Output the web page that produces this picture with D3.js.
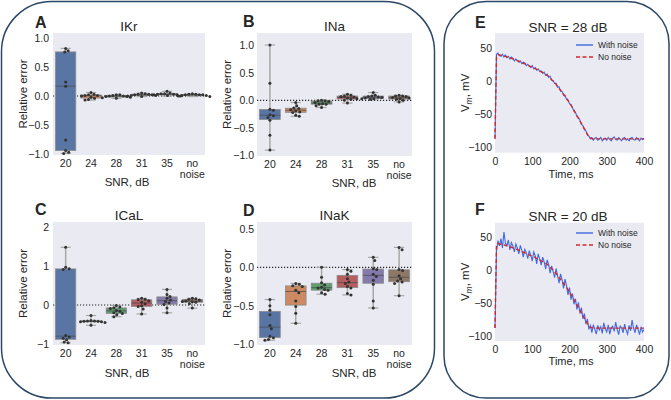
<!DOCTYPE html>
<html><head><meta charset="utf-8">
<script src="https://cdn.jsdelivr.net/npm/d3@7"></script>
<style>
body{margin:0;background:#fff}
svg{display:block}
text{font-family:"Liberation Sans",Arial,sans-serif;fill:#262626}
</style>
</head><body>
<svg id="c" width="671" height="400"></svg>
<script>
// ---------------- DATA ----------------
const categories = ["20", "24", "28", "31", "35", "no noise"];
const boxColors = ["#5975a4", "#cc8963", "#5f9e6e", "#b55d60", "#857aab", "#8d7866"];

const IKr = [
  [-0.99, -0.97, -0.94, -0.76, 0.17, 0.24, 0.76, 0.78, 0.82],
  [-0.07, -0.06, -0.04, -0.02, 0.00, 0.01, 0.01, 0.02, 0.03, 0.06],
  [-0.04, -0.03, -0.02, -0.01, -0.01, 0.00, 0.00, 0.01, 0.02, 0.02],
  [-0.01, 0.00, 0.01, 0.01, 0.02, 0.02, 0.03, 0.03, 0.04, 0.05],
  [0.00, 0.01, 0.02, 0.02, 0.03, 0.03, 0.04, 0.04, 0.05, 0.08],
  [-0.01, 0.00, 0.01, 0.01, 0.02, 0.02, 0.02, 0.03, 0.03, 0.04]
];
const INa = [
  [-0.90, -0.63, -0.36, -0.31, -0.28, -0.26, -0.18, -0.16, 0.31, 1.00],
  [-0.29, -0.27, -0.22, -0.21, -0.19, -0.17, -0.15, -0.14, -0.10, -0.04],
  [-0.13, -0.10, -0.07, -0.07, -0.06, -0.04, -0.02, -0.01, -0.01, 0.00],
  [-0.05, 0.00, 0.02, 0.03, 0.04, 0.06, 0.07, 0.08, 0.09, 0.11],
  [0.02, 0.03, 0.03, 0.04, 0.05, 0.06, 0.07, 0.08, 0.09, 0.14],
  [-0.03, 0.00, 0.02, 0.03, 0.04, 0.05, 0.07, 0.08, 0.08, 0.09]
];
const ICaL = [
  [-0.97, -0.95, -0.89, -0.85, -0.82, -0.78, 0.91, 0.93, 0.97, 1.48],
  [-0.52, -0.45, -0.43, -0.43, -0.42, -0.42, -0.41, -0.41, -0.40, -0.27],
  [-0.30, -0.25, -0.22, -0.20, -0.16, -0.14, -0.09, -0.07, -0.05, -0.01],
  [-0.23, -0.10, -0.04, -0.02, 0.03, 0.07, 0.11, 0.14, 0.15, 0.17],
  [-0.20, -0.08, 0.01, 0.05, 0.09, 0.13, 0.17, 0.22, 0.27, 0.40],
  [-0.08, 0.03, 0.07, 0.08, 0.09, 0.10, 0.13, 0.15, 0.16, 0.17]
];
const INaK = [
  [-0.95, -0.94, -0.92, -0.90, -0.80, -0.76, -0.62, -0.56, -0.50, -0.42],
  [-0.73, -0.60, -0.51, -0.44, -0.33, -0.30, -0.25, -0.24, -0.22, -0.21],
  [-0.35, -0.33, -0.30, -0.29, -0.27, -0.26, -0.23, -0.20, -0.13, 0.00],
  [-0.36, -0.34, -0.27, -0.25, -0.21, -0.19, -0.15, -0.09, -0.05, -0.03],
  [-0.53, -0.44, -0.22, -0.17, -0.12, -0.09, -0.03, -0.02, 0.09, 0.13],
  [-0.37, -0.21, -0.19, -0.18, -0.15, -0.11, -0.04, -0.03, 0.23, 0.26]
];
const ticksA = [-1, -0.5, 0, 0.5, 1];
const ticksB = [-1, -0.5, 0, 0.5, 1];
const ticksC = [-1, 0, 1, 2];
const ticksD = [-1, -0.5, 0, 0.5];

// action potential, samples every 4 ms from 0 to 400 ms
const timeTicks = [0, 100, 200, 300, 400];
const vTicks = [-100, -50, 0, 50];
const apClean = [
  -88, 37, 39.5, 39, 38.5, 38, 37.5, 37, 36, 35.5,
  34.5, 34, 33, 32, 31, 30.5, 29.5, 28.5, 27.5, 26.5,
  25.5, 24.5, 23.5, 22.5, 21.5, 20.5, 19.5, 18.5, 17, 16,
  15, 13.5, 12.5, 11, 9.5, 8, 6.5, 4, 1.5, -0.5,
  -3, -5.5, -8.5, -11.5, -14.5, -17.5, -20.5, -23.5, -26.5, -30,
  -33.5, -37, -41, -45, -49, -53, -57, -61, -65, -69,
  -73, -77, -81, -84.5, -86.5, -87.5, -88, -88, -88, -88,
  -88, -88, -88, -88, -88, -88, -88, -88, -88, -88,
  -88, -88, -88, -88, -88, -88, -88, -88, -88, -88,
  -88, -88, -88, -88, -88, -88, -88, -88, -88, -88,
  -88
];
const apNoisyE = [
  -88, 40, 42, 38, 37, 40, 36, 39, 35, 37,
  33, 36, 34, 30, 33, 31, 28, 30, 26, 28,
  27, 23, 25, 22, 20, 23, 18, 20, 16, 18,
  14, 15, 11, 13, 8, 10, 5, 7, 1, 0,
  -4, -4, -10, -9, -16, -16, -22, -22, -28, -29,
  -35, -36, -41, -46, -48, -54, -56, -60, -66, -68,
  -74, -76, -82, -84, -88, -86, -90, -87, -86, -90,
  -88, -86, -91, -88, -87, -90, -86, -89, -91, -87,
  -85, -89, -90, -86, -88, -91, -87, -86, -90, -88,
  -91, -87, -86, -89, -90, -86, -88, -91, -87, -89,
  -88
];
const apNoisyF = [
  -88, 28, 44, 36, 47, 33, 57, 40, 37, 45,
  30, 41, 36, 27, 39, 33, 24, 37, 29, 19,
  31, 26, 17, 29, 22, 13, 27, 21, 9, 24,
  16, 7, 19, 12, 1, 15, 8, -5, 6, -2,
  -12, 2, -9, -20, -6, -15, -28, -14, -24, -38,
  -27, -45, -36, -52, -44, -60, -49, -66, -57, -74,
  -66, -82, -74, -90, -84, -95, -83, -90, -97, -84,
  -91, -86, -96, -80, -89, -94, -83, -97, -88, -85,
  -93, -79, -90, -98, -85, -88, -95, -82, -91, -97,
  -84, -92, -76, -88, -95, -83, -90, -98, -86, -94,
  -90
];

// ---------------- DRAWING ----------------
const svg = d3.select("#c");
const frameColor = "#2c4866";

svg.append("rect").attr("x", 1.5).attr("y", 1.5).attr("width", 433).attr("height", 396.5)
  .attr("rx", 50).attr("fill", "none").attr("stroke", frameColor).attr("stroke-width", 1.5);
svg.append("rect").attr("x", 444).attr("y", 1.5).attr("width", 225).attr("height", 396.5)
  .attr("rx", 42).attr("fill", "none").attr("stroke", frameColor).attr("stroke-width", 1.5);

function swarm(vals, y, cx, r) {
  const pts = vals.map(v => ({ v, y: y(v) })).sort((a, b) => a.y - b.y);
  const placed = [];
  const d2 = Math.pow(2 * r + 0.4, 2);
  pts.forEach(p => {
    for (let k = 0; k < 400; k++) {
      const off = (k % 2 ? 1 : -1) * Math.ceil(k / 2) * 0.5;
      const px = cx + off;
      if (placed.every(q => (q.x - px) ** 2 + (q.y - p.y) ** 2 >= d2)) {
        placed.push({ x: px, y: p.y });
        break;
      }
    }
  });
  return placed;
}

function styleTicks(sel) {
  sel.selectAll("text").attr("font-size", 10.5).attr("fill", "#262626")
    .attr("font-family", "Liberation Sans, Arial, sans-serif");
}

function boxPanel(p) {
  const g = svg.append("g");
  const x = d3.scaleBand().domain(categories).range([p.x0, p.x1]);
  const y = d3.scaleLinear().domain(p.dom).range([p.yBot, p.yTop]);
  g.append("rect").attr("x", p.x0).attr("y", p.yTop).attr("width", p.x1 - p.x0)
    .attr("height", p.yBot - p.yTop).attr("fill", "#eaeaf2");
  g.append("line").attr("x1", p.x0).attr("x2", p.x1).attr("y1", y(0)).attr("y2", y(0))
    .attr("stroke", "#222").attr("stroke-width", 1.2).attr("stroke-dasharray", "1.2,1.8");
  const bw = x.bandwidth() * 0.8;
  p.data.forEach((vals, i) => {
    const s = vals.slice().sort(d3.ascending);
    const q1 = d3.quantile(s, 0.25), med = d3.quantile(s, 0.5), q3 = d3.quantile(s, 0.75);
    const mn = s[0], mx = s[s.length - 1];
    const cx = x(categories[i]) + x.bandwidth() / 2;
    const wc = "#a8a8a8";
    g.append("line").attr("x1", cx).attr("x2", cx).attr("y1", y(mx)).attr("y2", y(q3))
      .attr("stroke", wc).attr("stroke-width", 1.5);
    g.append("line").attr("x1", cx).attr("x2", cx).attr("y1", y(q1)).attr("y2", y(mn))
      .attr("stroke", wc).attr("stroke-width", 1.5);
    [mn, mx].forEach(v => g.append("line").attr("x1", cx - bw / 4).attr("x2", cx + bw / 4)
      .attr("y1", y(v)).attr("y2", y(v)).attr("stroke", wc).attr("stroke-width", 1.2));
    g.append("rect").attr("x", cx - bw / 2).attr("y", y(q3)).attr("width", bw)
      .attr("height", Math.max(0.5, y(q1) - y(q3))).attr("fill", boxColors[i])
      .attr("stroke", "#8a8a8a").attr("stroke-width", 0.8);
    g.append("line").attr("x1", cx - bw / 2).attr("x2", cx + bw / 2).attr("y1", y(med)).attr("y2", y(med))
      .attr("stroke", "#4a4a4a").attr("stroke-opacity", 0.7).attr("stroke-width", 1);
  });
  p.data.forEach((vals, i) => {
    const cx = x(categories[i]) + x.bandwidth() / 2;
    g.selectAll(null).data(swarm(vals, y, cx, 1.5)).enter().append("circle")
      .attr("cx", d => d.x).attr("cy", d => d.y).attr("r", 1.5).attr("fill", "#333");
  });
  const ya = g.append("g").attr("transform", `translate(${p.x0},0)`)
    .call(d3.axisLeft(y).tickValues(p.ticks).tickFormat(d3.format(p.fmt)).tickSize(0).tickPadding(p.ypad));
  ya.select(".domain").remove();
  styleTicks(ya);
  const xa = g.append("g").attr("transform", `translate(0,${p.yBot})`)
    .call(d3.axisBottom(x).tickSize(0).tickPadding(5));
  xa.select(".domain").remove();
  styleTicks(xa);
  xa.selectAll("text").each(function (d) {
    const t = d3.select(this);
    const parts = d.split(" ");
    if (parts.length > 1) {
      t.text(null).attr("dy", null);
      parts.forEach((w, k) => t.append("tspan").attr("x", 0).attr("dy", k ? "1.05em" : "0.71em").text(w));
    }
  });
  g.append("text").attr("x", p.letterX).attr("y", p.letterY).attr("font-size", 16).attr("font-weight", "bold")
    .attr("fill", "#000").text(p.letter);
  g.append("text").attr("x", (p.x0 + p.x1) / 2).attr("y", p.titleY).attr("text-anchor", "middle")
    .attr("font-size", 13.5).text(p.title);
  g.append("text").attr("transform", `translate(${p.ylabX},${(p.yTop + p.yBot) / 2}) rotate(-90)`)
    .attr("text-anchor", "middle").attr("font-size", 11.5).text("Relative error");
  g.append("text").attr("x", p.xlabX).attr("y", p.xlabY).attr("text-anchor", "middle")
    .attr("font-size", 11.5).text("SNR, dB");
}

boxPanel({ letter: "A", title: "IKr", data: IKr, ticks: ticksA, fmt: ".1f", x0: 53, x1: 205, yTop: 33, yBot: 155,
  dom: [-1.017, 1.086], letterX: 35, letterY: 28, titleY: 30.5, ylabX: 27, ypad: 4, xlabX: 127, xlabY: 186 });
boxPanel({ letter: "B", title: "INa", data: INa, ticks: ticksB, fmt: ".1f", x0: 257, x1: 412, yTop: 33, yBot: 156,
  dom: [-1.007, 1.217], letterX: 243, letterY: 27, titleY: 30.5, ylabX: 231, ypad: 3, xlabX: 354, xlabY: 187 });
boxPanel({ letter: "C", title: "ICaL", data: ICaL, ticks: ticksC, fmt: "d", x0: 53, x1: 205, yTop: 222, yBot: 345,
  dom: [-1.026, 2.128], letterX: 35, letterY: 215, titleY: 220, ylabX: 27, ypad: 4, xlabX: 127, xlabY: 377 });
boxPanel({ letter: "D", title: "INaK", data: INaK, ticks: ticksD, fmt: ".1f", x0: 257, x1: 412, yTop: 222, yBot: 345,
  dom: [-1.013, 0.591], letterX: 243, letterY: 216, titleY: 220, ylabX: 231, ypad: 3, xlabX: 354, xlabY: 377 });

function apPanel(p) {
  const g = svg.append("g");
  const times = d3.range(0, 401, 4);
  const x = d3.scaleLinear().domain([0, 400]).range([p.x0, p.x1]);
  const y = d3.scaleLinear().domain(p.dom).range([p.yBot, p.yTop]);
  g.append("rect").attr("x", p.x0).attr("y", p.yTop).attr("width", p.x1 - p.x0)
    .attr("height", p.yBot - p.yTop).attr("fill", "#eaeaf2");
  const line = d3.line().x((d, i) => x(times[i])).y(d => y(d));
  g.append("path").datum(p.noisy).attr("d", line).attr("fill", "none")
    .attr("stroke", "#4169e1").attr("stroke-width", 1.1);
  g.append("path").datum(apClean).attr("d", line).attr("fill", "none")
    .attr("stroke", "#d62728").attr("stroke-width", 1.4).attr("stroke-dasharray", "4,2.5");
  const ya = g.append("g").attr("transform", `translate(${p.x0},0)`)
    .call(d3.axisLeft(y).tickValues(vTicks).tickSize(0).tickPadding(3));
  ya.select(".domain").remove();
  styleTicks(ya);
  const xa = g.append("g").attr("transform", `translate(0,${p.yBot})`)
    .call(d3.axisBottom(x).tickValues(timeTicks).tickSize(0).tickPadding(5));
  xa.select(".domain").remove();
  styleTicks(xa);
  g.append("text").attr("x", 475).attr("y", p.letterY).attr("font-size", 16).attr("font-weight", "bold")
    .attr("fill", "#000").text(p.letter);
  g.append("text").attr("x", 568).attr("y", p.titleY).attr("text-anchor", "middle")
    .attr("font-size", 13.5).text(p.title);
  const yl = g.append("text").attr("transform", `translate(469,${(p.yTop + p.yBot) / 2}) rotate(-90)`)
    .attr("text-anchor", "middle").attr("font-size", 11.5);
  yl.append("tspan").text("V");
  yl.append("tspan").attr("font-size", 8.5).attr("font-style", "italic").attr("dy", 3).text("m");
  yl.append("tspan").attr("dy", -3).text(", mV");
  g.append("text").attr("x", 571).attr("y", p.xlabY).attr("text-anchor", "middle")
    .attr("font-size", 11).text("Time, ms");
  const legend = [
    { label: "With noise", color: "#4169e1", dash: null },
    { label: "No noise", color: "#d62728", dash: "4,2.5" }
  ];
  legend.forEach((l, k) => {
    const ly = p.legY + k * 12;
    g.append("line").attr("x1", 576).attr("x2", 593).attr("y1", ly).attr("y2", ly)
      .attr("stroke", l.color).attr("stroke-width", 1.4).attr("stroke-dasharray", l.dash);
    g.append("text").attr("x", 598).attr("y", ly + 3).attr("font-size", 8.5).text(l.label);
  });
}

apPanel({ letter: "E", title: "SNR = 28 dB", noisy: apNoisyE, x0: 495, x1: 644, yTop: 33, yBot: 152.7,
  dom: [-109, 72.3], letterY: 28, titleY: 31.5, xlabY: 177.5, legY: 45 });
apPanel({ letter: "F", title: "SNR = 20 dB", noisy: apNoisyF, x0: 495, x1: 644, yTop: 222.7, yBot: 341,
  dom: [-107.5, 71.1], letterY: 215, titleY: 220.5, xlabY: 365, legY: 233 });
</script>
</body></html>
